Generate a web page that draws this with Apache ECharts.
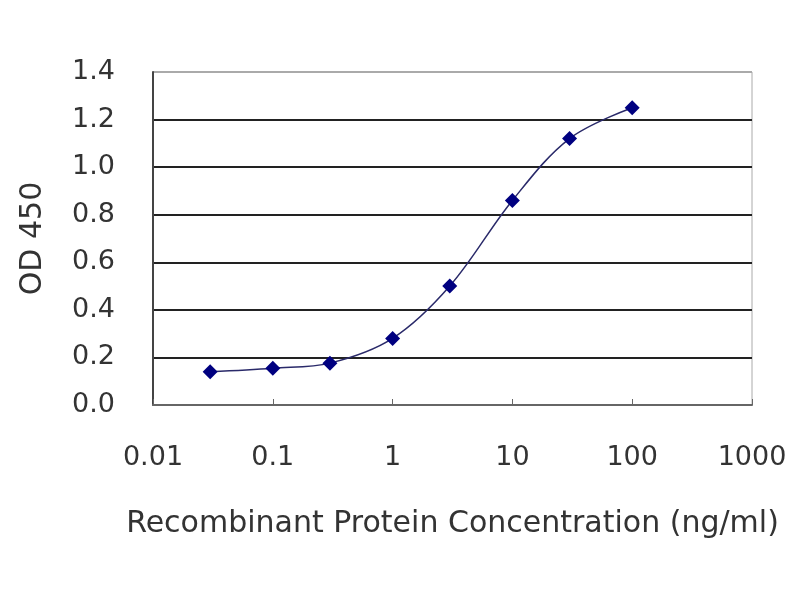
<!DOCTYPE html>
<html>
<head>
<meta charset="utf-8">
<script src="https://cdn.jsdelivr.net/npm/echarts@6/dist/echarts.min.js"></script>
<style>html,body{margin:0;padding:0;background:#fff}#c{width:800px;height:600px}</style>
</head>
<body>
<div id="c"></div>
<script>
var concentrations = [0.03, 0.1, 0.3, 1, 3, 10, 30, 100];
var od450 = [0.14, 0.155, 0.176, 0.28, 0.50, 0.86, 1.12, 1.25];
var xTickLabels = ['0.01', '0.1', '1', '10', '100', '1000'];
var yTickLabels = ['0.0', '0.2', '0.4', '0.6', '0.8', '1.0', '1.2', '1.4'];

var font = 'DejaVu Sans';
var chart = echarts.init(document.getElementById('c'), null, {renderer: 'canvas'});
var pts = concentrations.map(function (c, i) { return [c, od450[i]]; });

chart.setOption({
  animation: false,
  backgroundColor: '#fff',
  grid: {left: 153, right: 48, top: 72, bottom: 195, show: true, borderColor: '#aaa', borderWidth: 1, backgroundColor: '#fff'},
  xAxis: {
    type: 'log', logBase: 10, min: 0.01, max: 1000,
    name: 'Recombinant Protein Concentration (ng/ml)',
    nameLocation: 'middle', nameGap: 104,
    nameTextStyle: {fontFamily: font, fontSize: 30, color: '#333'},
    axisLine: {show: true, lineStyle: {color: '#666', width: 2}},
    axisTick: {show: true, inside: true, length: 6, lineStyle: {color: '#666'}},
    minorTick: {show: false},
    splitLine: {show: false},
    axisLabel: {
      margin: 39, fontFamily: font, fontSize: 27, color: '#333',
      formatter: function (v) { return xTickLabels[Math.round(Math.log10(v)) + 2]; }
    }
  },
  yAxis: {
    type: 'value', min: 0, max: 1.4, interval: 0.2,
    name: 'OD 450', nameLocation: 'middle', nameGap: 105, nameRotate: 90,
    nameTextStyle: {fontFamily: font, fontSize: 30, color: '#333'},
    axisLine: {show: true, lineStyle: {color: '#444', width: 2}},
    axisTick: {show: false},
    splitLine: {show: true, lineStyle: {color: ['#666', '#222', '#222', '#222', '#222', '#222', '#222', '#aaa'], width: 2}},
    axisLabel: {
      margin: 38, fontFamily: font, fontSize: 27, color: '#333',
      formatter: function (v) { return yTickLabels[Math.round(v / 0.2)]; }
    }
  },
  series: [{
    type: 'line',
    data: pts,
    smooth: 0.35,
    symbol: 'diamond',
    symbolSize: 15,
    lineStyle: {color: '#2a2a6a', width: 1.5},
    itemStyle: {color: '#000080'}
  }]
});
</script>
</body>
</html>
